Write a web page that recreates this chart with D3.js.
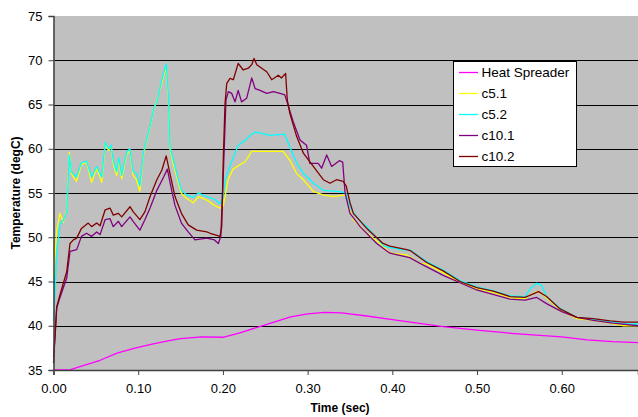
<!DOCTYPE html>
<html>
<head>
<meta charset="utf-8">
<script src="https://cdn.jsdelivr.net/npm/d3@7"></script>
<style>
  body { margin: 0; background: #fff; }
  text { font-family: "Liberation Sans", Arial, sans-serif; }
</style>
</head>
<body>
<script>
let width = 638, height = 417;

// series names, in legend order
let seriesNames = ['Heat Spreader', 'c5.1', 'c5.2', 'c10.1', 'c10.2'];
let seriesColors = ['#ff00ff', '#ffff00', '#00ffff', '#800080', '#800000'];

let yTicks = [35, 40, 45, 50, 55, 60, 65, 70, 75];
let xTicks = [0, 0.1, 0.2, 0.3, 0.4, 0.5, 0.6];

// [time, temperature]
let heatSpreader = [[0,35.0],[0.02,35.05],[0.035,35.5],[0.055,36.1],[0.075,36.9],[0.095,37.45],[0.115,37.9],[0.135,38.3],[0.15,38.55],[0.175,38.75],[0.20,38.7],[0.22,39.2],[0.25,40.1],[0.28,41.0],[0.30,41.35],[0.32,41.5],[0.34,41.45],[0.37,41.1],[0.40,40.7],[0.43,40.3],[0.46,39.9],[0.50,39.5],[0.54,39.15],[0.57,38.95],[0.60,38.75],[0.63,38.4],[0.66,38.2],[0.69,38.1]];

let c51 = [[0,45.5],[0.0038,50.8],[0.0077,52.7],[0.0116,51.7],[0.0156,53.1],[0.0187,59.6],[0.021,57.2],[0.027,56.3],[0.033,58.2],[0.039,58.5],[0.045,56.2],[0.051,57.8],[0.057,56.2],[0.061,60.6],[0.065,59.8],[0.068,60.3],[0.0706,58.3],[0.0746,57.0],[0.077,58.8],[0.0805,56.6],[0.0864,59.4],[0.0903,59.8],[0.094,57.0],[0.098,56.5],[0.102,55.2],[0.106,59.3],[0.114,62.4],[0.118,64.3],[0.122,65.5],[0.128,67.5],[0.133,69.3],[0.1355,66.0],[0.1375,60.0],[0.1415,58.2],[0.1455,56.8],[0.151,54.95],[0.157,54.4],[0.165,53.9],[0.171,54.6],[0.181,54.2],[0.19,53.6],[0.1966,53.3],[0.2005,53.6],[0.2025,54.6],[0.206,56.5],[0.212,57.7],[0.22,58.2],[0.226,58.5],[0.234,59.7],[0.271,59.7],[0.279,58.7],[0.287,57.2],[0.295,56.5],[0.307,55.15],[0.3185,54.8],[0.33,54.6],[0.345,54.8],[0.35,52.9],[0.354,52.0],[0.37,50.45],[0.3855,49.3],[0.397,48.2],[0.417,48.0],[0.4327,47.05],[0.44,47.0],[0.46,46.0],[0.48,44.9],[0.50,44.2],[0.52,43.75],[0.54,43.15],[0.5567,43.05],[0.563,43.5],[0.571,43.85],[0.578,43.5],[0.598,41.8],[0.6177,40.8],[0.637,40.6],[0.657,40.3],[0.673,40.0],[0.69,40.0]];

let c52 = [[0,40.5],[0.002,44],[0.0038,48.2],[0.0077,51.5],[0.0116,51.9],[0.0156,52.8],[0.0187,59.3],[0.021,57.4],[0.027,56.8],[0.033,58.4],[0.039,58.6],[0.045,56.8],[0.051,58.0],[0.057,56.8],[0.061,60.7],[0.065,60.0],[0.068,60.4],[0.0706,58.6],[0.0746,57.4],[0.077,59.0],[0.0805,57.0],[0.0864,59.6],[0.0903,60.0],[0.094,57.4],[0.098,57.2],[0.102,55.8],[0.106,59.5],[0.114,62.5],[0.118,64.4],[0.122,65.3],[0.128,67.8],[0.133,69.6],[0.1355,66.3],[0.1375,60.2],[0.1415,58.7],[0.1455,57.2],[0.151,55.3],[0.157,54.8],[0.165,54.5],[0.171,55.0],[0.181,54.6],[0.19,54.3],[0.1966,53.8],[0.2005,54.5],[0.2025,56.5],[0.208,58.0],[0.218,60.4],[0.227,61.0],[0.232,61.5],[0.238,61.9],[0.2556,61.5],[0.273,61.65],[0.279,60.2],[0.287,58.4],[0.295,57.2],[0.307,56.1],[0.3185,55.3],[0.338,55.15],[0.345,55.0],[0.35,53.4],[0.362,51.8],[0.37,51.2],[0.39,49.0],[0.41,48.6],[0.421,48.55],[0.4406,47.25],[0.46,46.3],[0.48,45.1],[0.4996,44.4],[0.519,43.96],[0.539,43.36],[0.5567,43.3],[0.563,44.2],[0.5705,44.8],[0.576,44.6],[0.582,43.3],[0.598,41.97],[0.6177,40.95],[0.637,40.76],[0.657,40.46],[0.673,40.2],[0.69,40.2]];

let c101 = [[0,36.5],[0.002,39.0],[0.0038,42.0],[0.0077,43.2],[0.0116,44.3],[0.0156,45.4],[0.0195,48.4],[0.0274,48.6],[0.033,50.1],[0.039,50.45],[0.045,50.1],[0.051,50.6],[0.055,50.3],[0.061,52.0],[0.0667,52.1],[0.0706,51.2],[0.0766,51.8],[0.0805,51.2],[0.0903,52.3],[0.094,51.8],[0.102,50.8],[0.108,52.0],[0.114,53.3],[0.122,55.3],[0.13,56.8],[0.1344,57.7],[0.1395,55.3],[0.1434,53.6],[0.151,51.6],[0.159,50.6],[0.167,49.7],[0.181,49.9],[0.19,49.7],[0.1946,49.3],[0.1975,50.1],[0.2005,57.2],[0.2036,65.5],[0.2064,66.45],[0.2104,66.25],[0.2143,65.3],[0.218,66.6],[0.222,65.3],[0.228,65.7],[0.234,68.0],[0.238,66.8],[0.2438,66.6],[0.2517,66.25],[0.2595,66.45],[0.2674,66.25],[0.273,66.1],[0.277,64.9],[0.283,63.05],[0.291,61.0],[0.2987,60.4],[0.3026,58.35],[0.3125,58.35],[0.3165,57.8],[0.3225,59.3],[0.3284,58.0],[0.3374,58.65],[0.3414,58.5],[0.3442,55.0],[0.35,52.7],[0.3619,51.2],[0.3816,49.3],[0.397,48.2],[0.4205,47.7],[0.4327,47.05],[0.46,45.7],[0.4996,44.04],[0.539,43.0],[0.5567,42.9],[0.5705,43.2],[0.582,42.5],[0.60,41.6],[0.6177,40.95],[0.637,40.6],[0.66,40.3],[0.69,40.0]];

let c102 = [[0,35.8],[0.002,39.2],[0.0038,42.15],[0.0077,43.5],[0.0116,44.8],[0.0156,46.1],[0.0195,49.3],[0.0234,49.7],[0.0274,49.9],[0.033,51.0],[0.041,51.6],[0.045,51.2],[0.051,51.6],[0.055,51.3],[0.061,53.1],[0.0667,53.3],[0.0706,52.5],[0.0766,52.7],[0.0805,52.3],[0.0903,53.45],[0.094,52.9],[0.102,52.0],[0.108,52.9],[0.114,54.6],[0.122,56.5],[0.128,57.6],[0.133,59.2],[0.1375,57.2],[0.1434,54.6],[0.151,52.7],[0.159,51.4],[0.169,50.8],[0.181,50.6],[0.185,50.45],[0.1966,50.1],[0.1986,51.2],[0.2005,59.1],[0.2025,65.1],[0.2045,67.4],[0.2084,67.95],[0.2123,67.8],[0.218,69.65],[0.224,68.9],[0.23,69.1],[0.234,69.5],[0.2367,70.2],[0.24,69.5],[0.2458,69.1],[0.2517,68.7],[0.2576,67.8],[0.2654,68.3],[0.269,68.0],[0.274,68.5],[0.276,65.5],[0.279,64.0],[0.287,61.4],[0.295,59.5],[0.3067,58.0],[0.3185,56.5],[0.3264,56.1],[0.334,56.5],[0.342,56.3],[0.3455,55.8],[0.35,53.9],[0.354,52.7],[0.3698,51.0],[0.389,49.3],[0.397,49.0],[0.417,48.6],[0.421,48.5],[0.4406,47.15],[0.46,46.2],[0.48,45.0],[0.4996,44.3],[0.519,43.9],[0.539,43.3],[0.5567,43.2],[0.5725,43.85],[0.582,43.3],[0.598,41.9],[0.6177,40.95],[0.637,40.8],[0.657,40.55],[0.673,40.4],[0.69,40.4]];

let seriesData = [heatSpreader, c51, c52, c101, c102];

let margin = {left: 53.5, right: 0, top: 16, bottom: 47};

let x = d3.scaleLinear().domain([0, 0.69]).range([margin.left, width - margin.right]);
let y = d3.scaleLinear().domain([35, 75]).range([height - margin.bottom, margin.top]);

let svg = d3.select('body')
  .append('svg')
  .attr('width', width)
  .attr('height', height);

// plot area
svg.append('rect')
  .attr('x', x(0))
  .attr('y', y(75))
  .attr('width', x(0.69) - x(0))
  .attr('height', y(35) - y(75))
  .style('fill', '#c0c0c0');

// gridlines
svg.append('g')
  .selectAll('line')
  .data(yTicks.filter(function(d) { return d > 35 && d < 75; }))
  .join('line')
  .attr('x1', x(0))
  .attr('x2', x(0.69))
  .attr('y1', function(d) { return Math.round(y(d)) + 0.5; })
  .attr('y2', function(d) { return Math.round(y(d)) + 0.5; })
  .style('stroke', '#000')
  .style('stroke-width', 1);

// lines
let line = d3.line()
  .x(function(d) { return x(d[0]); })
  .y(function(d) { return y(d[1]); });

svg.append('g')
  .selectAll('path')
  .data(seriesData)
  .join('path')
  .attr('d', line)
  .style('fill', 'none')
  .style('stroke', function(d, i) { return seriesColors[i]; })
  .style('stroke-width', 1.3)
  .style('stroke-linejoin', 'round');

// axes
let yAxis = d3.axisLeft(y)
  .tickValues(yTicks)
  .tickSize(5)
  .tickPadding(6)
  .tickFormat(d3.format('d'));

let xAxis = d3.axisBottom(x)
  .tickValues(xTicks)
  .tickSize(5)
  .tickPadding(9)
  .tickFormat(d3.format('.2f'));

let gy = svg.append('g')
  .attr('transform', 'translate(' + margin.left + ',0)')
  .call(yAxis);

let gx = svg.append('g')
  .attr('transform', 'translate(0,' + (height - margin.bottom) + ')')
  .call(xAxis);

[gx, gy].forEach(function(g) {
  g.select('.domain').style('stroke', '#404040').style('stroke-width', 1.5);
  g.selectAll('.tick line').style('stroke', '#404040');
  g.selectAll('.tick text')
    .style('font-size', '13px')
    .style('fill', '#000')
    .style('font-family', '"Liberation Sans", Arial, sans-serif');
});

// axis titles
svg.append('text')
  .attr('x', 340)
  .attr('y', 412)
  .attr('text-anchor', 'middle')
  .style('font-size', '12px')
  .style('font-weight', 'bold')
  .text('Time (sec)');

svg.append('text')
  .attr('transform', 'translate(20,193) rotate(-90)')
  .attr('text-anchor', 'middle')
  .style('font-size', '12px')
  .style('font-weight', 'bold')
  .text('Temperature (degC)');

// legend
let legend = svg.append('g');

legend.append('rect')
  .attr('x', 453.5)
  .attr('y', 61.5)
  .attr('width', 123)
  .attr('height', 105)
  .style('fill', '#fff')
  .style('stroke', '#000')
  .style('stroke-width', 1);

let items = legend.selectAll('g.item')
  .data(seriesNames)
  .join('g')
  .attr('class', 'item')
  .attr('transform', function(d, i) { return 'translate(0,' + (72 + i * 21) + ')'; });

items.append('line')
  .attr('x1', 459)
  .attr('x2', 478)
  .attr('y1', 0.5)
  .attr('y2', 0.5)
  .style('stroke', function(d, i) { return seriesColors[i]; })
  .style('stroke-width', 1.3);

items.append('text')
  .attr('x', 481.5)
  .attr('y', 5)
  .style('font-size', '13.5px')
  .text(function(d) { return d; });
</script>
</body>
</html>
